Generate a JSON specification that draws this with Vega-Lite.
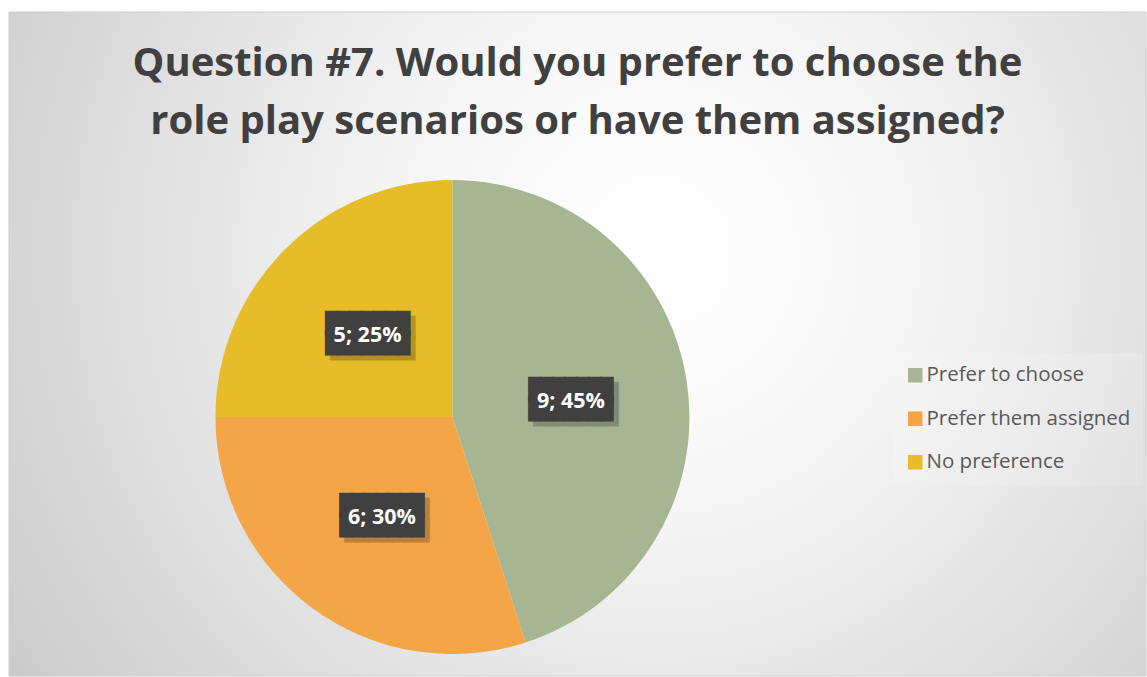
{
  "$schema": "https://vega.github.io/schema/vega-lite/v6.json",
  "width": 1147,
  "height": 677,
  "autosize": {"type": "fit", "contains": "padding"},
  "padding": {"left": 8, "top": 11, "right": 0, "bottom": 0},
  "background": "white",
  "config": {
    "view": {"stroke": null}
  },
  "title": {
    "text": ["Question #7. Would you prefer to choose the", "role play scenarios or have them assigned?"],
    "font": "Open Sans",
    "fontSize": 40,
    "fontWeight": "bold",
    "color": "#404040",
    "anchor": "middle",
    "frame": "group",
    "baseline": "bottom",
    "lineHeight": 58,
    "offset": -170
  },
  "data": {
    "values": [
      {"answer": "Prefer to choose", "count": 9, "k": 1, "label": "9; 45%"},
      {"answer": "Prefer them assigned", "count": 6, "k": 2, "label": "6; 30%"},
      {"answer": "No preference", "count": 5, "k": 3, "label": "5; 25%"}
    ]
  },
  "layer": [
    {
      "data": {"values": [{"bg": 1}]},
      "mark": {
        "type": "rect",
        "x": 0, "y": 0,
        "x2": {"expr": "width"}, "y2": {"expr": "height"},
        "stroke": "#cfcfcf",
        "strokeWidth": 1,
        "fill": {
          "gradient": "radial",
          "x1": 0.57, "y1": 0.42, "r1": 0,
          "x2": 0.57, "y2": 0.42, "r2": 0.75,
          "stops": [
            {"offset": 0, "color": "#ffffff"},
            {"offset": 0.3, "color": "#f6f6f6"},
            {"offset": 1, "color": "#c4c4c4"}
          ]
        }
      },
      "encoding": {}
    },
    {
      "mark": {"type": "arc", "outerRadius": 237, "x": {"expr": "width*0.39"}, "y": {"expr": "height*0.61"}},
      "encoding": {
        "theta": {"field": "count", "type": "quantitative", "stack": true},
        "order": {"field": "k", "type": "quantitative"},
        "color": {
          "field": "answer",
          "type": "nominal",
          "sort": ["Prefer to choose", "Prefer them assigned", "No preference"],
          "scale": {
            "domain": ["Prefer to choose", "Prefer them assigned", "No preference"],
            "range": ["#A6B592", "#F3A547", "#E7BC29"]
          },
          "legend": {
            "orient": "none",
            "legendX": 884,
            "legendY": 341,
            "title": null,
            "symbolType": "square",
            "symbolSize": 210,
            "symbolStrokeWidth": 0,
            "labelFont": "Open Sans",
            "labelFontSize": 20.5,
            "labelColor": "#595959",
            "labelOffset": 1,
            "rowPadding": 22.5,
            "padding": 12,
            "fillColor": "rgba(255,255,255,0.15)",
            "labelLimit": 300
          }
        }
      }
    },
    {
      "mark": {"type": "text", "radius": 120, "x": {"expr": "width*0.39"}, "y": {"expr": "height*0.61"}, "dx": 5, "dy": -3, "font": "DejaVu Sans Mono", "fontSize": 20, "lineHeight": 19.5, "baseline": "middle", "color": "#000000", "stroke": "#000000", "strokeWidth": 1, "opacity": 0.22, "text": ["███████", "███████"]},
      "encoding": {
        "theta": {"field": "count", "type": "quantitative", "stack": true},
        "order": {"field": "k", "type": "quantitative"}
      }
    },
    {
      "mark": {"type": "text", "radius": 120, "x": {"expr": "width*0.39"}, "y": {"expr": "height*0.61"}, "dy": -8, "font": "DejaVu Sans Mono", "fontSize": 20, "lineHeight": 19.5, "baseline": "middle", "color": "#404040", "stroke": "#404040", "strokeWidth": 1, "text": ["███████", "███████"]},
      "encoding": {
        "theta": {"field": "count", "type": "quantitative", "stack": true},
        "order": {"field": "k", "type": "quantitative"}
      }
    },
    {
      "mark": {"type": "text", "radius": 120, "x": {"expr": "width*0.39"}, "y": {"expr": "height*0.61"}, "dy": 4, "font": "Open Sans", "fontSize": 21.5, "fontWeight": "bold", "baseline": "middle", "color": "#ffffff"},
      "encoding": {
        "theta": {"field": "count", "type": "quantitative", "stack": true},
        "order": {"field": "k", "type": "quantitative"},
        "text": {"field": "label", "type": "nominal"}
      }
    }
  ]
}
